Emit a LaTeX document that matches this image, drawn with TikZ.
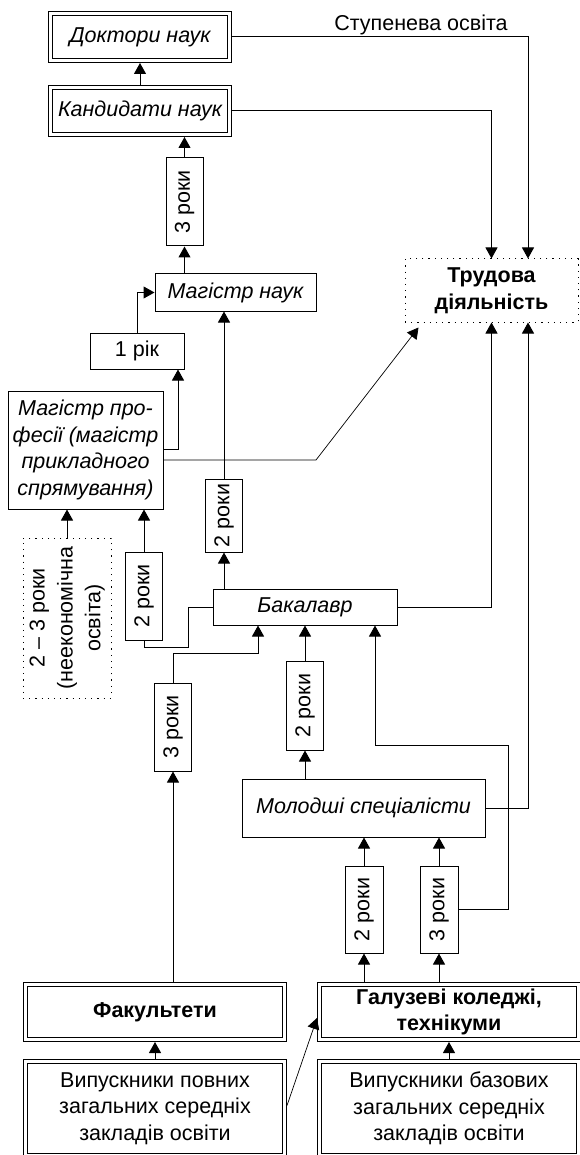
\documentclass[tikz,border=0pt]{standalone}
\usepackage{fontspec}
\setmainfont{Liberation Sans}
\usepackage{tikz}
\usetikzlibrary{arrows.meta,positioning,calc}

\newcommand{\dsize}{\fontsize{21.5}{26.5}\selectfont}

\tikzset{
  box/.style={draw, line width=1pt, inner sep=0pt, align=center, font=\dsize\itshape},
  dbox/.style={draw, line width=0.8pt, double, double distance=3.4pt, outer sep=2.5pt, inner sep=0pt, align=center},
  yrs/.style={draw, line width=1pt, inner sep=0pt, minimum width=37pt, font=\dsize},
  dots/.style={draw, line width=1pt, dash pattern=on 1.2pt off 5pt, inner sep=0pt, align=center},
  arr/.style={line width=1pt, -{Triangle[length=11pt,width=12pt]}},
  ln/.style={line width=1pt},
}

\begin{document}
\begin{tikzpicture}[x=1pt,y=-1pt]
    \useasboundingbox (0,0) rectangle (580,1155);

    % Degrees
    \node[dbox, font=\dsize\itshape, minimum width=179pt, minimum height=47pt] (doc) at (140,37) {Доктори наук};
    \node[dbox, font=\dsize\itshape, minimum width=179pt, minimum height=47pt] (kand) at (140,111) {Кандидати наук};
    \node[yrs, minimum height=88pt] (r3a) at (184.5,202) {\rotatebox{90}{3 роки}};
    \node[box, minimum width=161pt, minimum height=37pt] (mnauk) at (235.5,292.5) {Магістр наук};
    \node[box, font=\dsize, minimum width=94pt, minimum height=36pt] (rik) at (137,351) {1 рік};
    \node[box, minimum width=155pt, minimum height=118pt] (mprof) at (85.5,450) {Магістр про-\\фесії (магістр\\прикладного\\спрямування)};
    \node[yrs, minimum height=73pt] (r2b) at (224,515.5) {\rotatebox{90}{2 роки}};
    \node[yrs, minimum height=88pt] (r2a) at (144,596) {\rotatebox{90}{2 роки}};
    \node[dots, font=\dsize, minimum width=88pt, minimum height=160pt] (neek) at (67,618)
        {\rotatebox{90}{\renewcommand{\arraystretch}{1.05}\begin{tabular}{@{}c@{}}2 – 3 роки\\(неекономічна\\освіта)\end{tabular}}};
    \node[dots, font=\dsize\bfseries, minimum width=173pt, minimum height=63pt] (trud) at (491.5,290.5) {Трудова\\діяльність};
    \node[box, minimum width=184pt, minimum height=36pt] (bak) at (305,607) {Бакалавр};
    \node[yrs, minimum height=88pt] (r3b) at (173,727) {\rotatebox{90}{3 роки}};
    \node[yrs, minimum height=89pt] (r2c) at (305,705.5) {\rotatebox{90}{2 роки}};
    \node[box, minimum width=243pt, minimum height=58pt] (mol) at (363.5,808) {Молодші спеціалісти};
    \node[yrs, minimum width=38pt, minimum height=87pt] (r2d) at (364,909.5) {\rotatebox{90}{2 роки}};
    \node[yrs, minimum width=38pt, minimum height=87pt] (r3c) at (439,909.5) {\rotatebox{90}{3 роки}};

    % Schools
    \node[dbox, font=\dsize\bfseries, minimum width=259pt, minimum height=55pt] (fak) at (155,1012) {Факультети};
    \node[dbox, font=\dsize\bfseries, minimum width=259pt, minimum height=55pt] (hal) at (449,1012) {Галузеві коледжі,\\технікуми};
    \node[dbox, font=\dsize, minimum width=259pt, minimum height=94pt] (vyp1) at (155,1108.5) {Випускники повних\\загальних середніх\\закладів освіти};
    \node[dbox, font=\dsize, minimum width=259pt, minimum height=94pt] (vyp2) at (449,1108.5) {Випускники базових\\загальних середніх\\закладів освіти};

    % Top part
    \coordinate (colB) at (528,0);
    \draw[arr] (kand.north) -- (doc.south);
    \draw[arr] (doc.east) -| (trud.north -| colB);
    \draw[arr] (kand.east) -| (trud.north);
    \node[font=\dsize] (stup) at (421,25) {Ступенева освіта};
    \draw[arr] (r3a.north) -- (r3a.north |- kand.south);
    \draw[arr] (mnauk.north -| r3a) -- (r3a.south);
    \draw[arr] (rik.north) |- (mnauk.west);
    \draw[arr] ([yshift=1pt]mprof.east) -| ([xshift=41pt]rik.south);
    \coordinate (kink) at (316,460);
    \draw[arr, line width=0.7pt] ([yshift=-10pt]mprof.east) -- (kink) -- ([xshift=14pt,yshift=-5pt]trud.south west);
    \draw[arr] (r2b.north) -- (r2b.north |- mnauk.south);
    \draw[arr] (r2a.north) -- (r2a.north |- mprof.south);
    \draw[arr] (neek.north) -- (neek.north |- mprof.south);

    % Middle part
    \draw[arr] (bak.north -| r2b) -- (r2b.south);
    \draw[ln] (r2a.south) -- ++(0,7) -| ([xshift=-24pt]bak.west) -- (bak.west);
    \draw[arr] (bak.east) -| (trud.south);
    \draw[arr] (r3b.north) -- ++(0,-29) -| ([xshift=-47pt]bak.south);
    \draw[arr] (r2c.north) -- (bak.south);
    \draw[arr] (mol.north -| r2c) -- (r2c.south);
    \draw[arr] (r2d.north) -- (r2d.north |- mol.south);
    \draw[arr] (r3c.north) -- (r3c.north |- mol.south);
    \coordinate (turn) at (508,745);
    \draw[arr] (r3c.east) -| (turn) -| ([xshift=70pt]bak.south);
    \draw[arr] (mol.east) -| (trud.south -| colB);

    % Bottom part
    \draw[arr] (fak.north -| r3b) -- (r3b.south);
    \draw[arr] (hal.north -| r2d) -- (r2d.south);
    \draw[arr] (hal.north -| r3c) -- (r3c.south);
    \draw[arr] (vyp1.north) -- (fak.south);
    \draw[arr] (vyp2.north) -- (hal.south);
    \draw[arr, line width=0.7pt] ([yshift=3pt]vyp1.east) -- ([yshift=-6pt]hal.west);
\end{tikzpicture}
\end{document}
